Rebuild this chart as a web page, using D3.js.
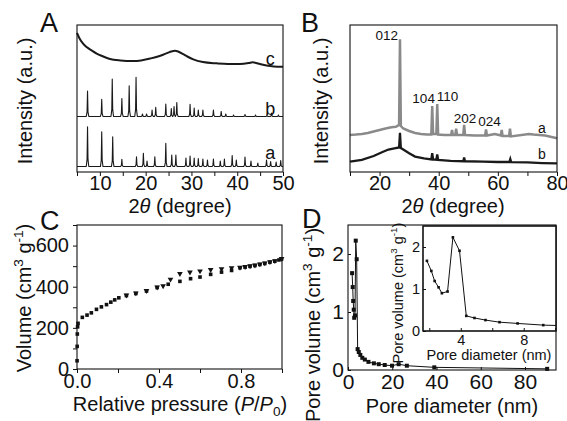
<!DOCTYPE html>
<html><head><meta charset="utf-8">
<script src="https://cdn.jsdelivr.net/npm/d3@7"></script>
<style>
body{margin:0;background:#fff}
svg text{font-family:"Liberation Sans",Arial,sans-serif;fill:#111}
.axis line{stroke:#111}
</style></head><body>
<svg id="fig" width="567" height="421"></svg>
<script>
// ---------- panel A : XRD (arbitrary intensity) ----------
const peaksA_a = [[7.3,30.8],[10.4,27.4],[12.8,24],[14.8,8.6],[18,10.4],[19.5,12.7],[20.3,7.5],[22,10.4],
  [24.4,19.5],[25.7,11.6],[26.6,11.6],[28.8,9.5],[29.7,10.9],[30.6,9.5],[31.5,9.2],[32.5,8.8],[33.5,8.2],
  [34.8,8.8],[36.3,7.5],[37.2,8.8],[38.9,11.2],[39.8,8.2],[41.7,10.2],[43,7.5],[44.5,6.1],[46.4,8.2],
  [47.3,7.1],[48.5,6.8],[49.5,7.8]];
const baseA_a = 3.7;
const peaksA_b = [[7.3,55.1],[10.4,49.5],[12.7,63.3],[14.8,50],[16.4,58.7],[17.9,64.4],[19.3,39.5],[20.2,39.5],
  [21.4,42.2],[22.2,44],[24.4,46.3],[25.6,43.2],[26.2,44.6],[26.8,47.3],[29.7,46.1],[30.6,43.5],[31.5,42.2],
  [32.5,42.2],[34.8,42.2],[36.5,41.2],[37.5,39.5],[39.2,38.8],[41.7,39.1],[44,38.8],[46.5,38.8],[47.5,40.1],[49,38.8]];
const baseA_b = 37.8;
const curveA_c = [[5,94.6],[5.5,91.2],[6.2,87.8],[7.1,85],[8.2,82.7],[9.3,80.6],[10.5,78.9],[12.2,76.9],
  [14.5,75.9],[17.2,75.5],[19,75.9],[21,77.2],[22.5,78.4],[23.8,79.8],[24.8,81],[25.6,82],[26.4,82.5],[27.2,81.8],
  [28.2,80.2],[29.2,78.4],[30.4,76.6],[32.5,74.8],[35.5,73.9],[38,73.5],[40.6,73.5],[42.5,74.1],[43.4,74.6],[44.5,73.8],
  [46.4,72.4],[48,71.8],[50,71.6]];
const labelsA = [["a",47.2,8.6],["b",47.2,38.8],["c",47.2,72.8]];

// ---------- panel B : XRD ----------
const curveB_a = [[10,25.2],[12,25.5],[14,25.9],[16,26.5],[18,27.6],[20,28.6],[22,29.6],[24,30.4],[25.5,30.8],
  [26.6,32],[26.9,90.3],[27.2,31.3],[28,29.6],[30,27.9],[32,26.5],[34,25.9],[36,25.5],[37.5,25.5],[37.8,44.9],
  [38.1,25.9],[39.2,25.9],[39.5,46.3],[39.8,25.5],[42,25.2],[44.2,25.2],[44.5,28.6],[44.8,25.2],[45.6,25.2],
  [45.9,29.5],[46.2,25.2],[48.3,25.2],[48.6,32],[48.9,25.2],[52,24.8],[55.7,24.8],[56,29],[56.3,24.8],[59,25.9],
  [61,24.8],[61.3,28.6],[61.6,24.5],[63.8,24.5],[64.1,29.5],[64.4,24.2],[70.5,25.9],[72,25.5],[76,24.8],[80,22.9]];
const curveB_b = [[10,7],[14,8.2],[18,10.9],[21,13.6],[23,15.3],[25,16.1],[26.6,16.7],[26.9,26.7],[27.2,16.3],
  [28,15.3],[30,12.7],[32,10.5],[35,9.2],[37.5,8.5],[37.8,12.9],[38.1,8.5],[39.2,8.3],[39.5,11.9],[39.8,8.2],
  [44,7.5],[48.3,7.3],[48.6,9.9],[48.9,7.3],[55,7],[60,6.8],[63.9,6.8],[64.2,8.8],[64.5,6.7],[70,6.5],[75,6.1],[80,5.8]];
const hklB = [["012",22.4,89.8],["104",34.9,46.7],["110",43,48.3],["202",48.9,33.1],["024",57.2,31.3]];
const labelsB = [["a",74.9,26.3],["b",74.9,8.6]];

// ---------- panel C : N2 isotherm ----------
const adsP = [0.0003,0.0008,0.0015,0.003,0.005,0.026,0.049,0.07,0.095,0.119,0.144,0.165,0.184,0.204,0.241,
  0.287,0.339,0.391,0.445,0.502,0.554,0.6,0.652,0.705,0.754,0.795,0.82,0.844,0.868,0.892,0.916,0.941,0.965,0.985,0.998];
const adsV = [40,110,170,205,222,251,262,273,290,302,313,325,336,346,357,367,379,396,412,426,439,447,460,471,479,
  492,495,499,503,508,513,519,524,530,535];
const desP = [0.998,0.965,0.941,0.916,0.892,0.868,0.844,0.82,0.795,0.754,0.705,0.652,0.6,0.551,0.502,0.456,0.42,
  0.391,0.339,0.287,0.241];
const desV = [537,526,521,515,510,505,501,497,494,492,487,483,476,471,463,436,404,398,381,369,359];

// ---------- panel D : pore size distribution ----------
const poreD = [1.85,2.13,2.34,2.59,2.8,3.16,3.5,3.92,4.35,4.87,5.57,6.46,7.61,9.24,11.7,13.9,16.6,19.9,22.9,26.6,39,90];
const poreV = [1.67,1.43,1.19,1.04,0.9,0.94,2.23,1.91,0.36,0.31,0.26,0.21,0.18,0.14,0.115,0.1,0.086,0.074,0.1,0.074,0.046,0.02];

const svg = d3.select("#fig");
svg.append("rect").attr("width",567).attr("height",421).attr("fill","#fff");

function rich(x, y, size, parts, rotate) {
  const t = svg.append("text").attr("font-size", size).attr("text-anchor", "middle");
  if (rotate) t.attr("transform", `translate(${x},${y}) rotate(-90)`);
  else t.attr("x", x).attr("y", y);
  let shift = 0;
  parts.forEach(([s, k]) => {
    const sp = t.append("tspan").text(s);
    const target = k === "sup" ? -0.4 * size : k === "sub" ? 0.25 * size : 0;
    if (target !== shift) { sp.attr("dy", target - shift); shift = target; }
    if (k === "sup" || k === "sub") sp.attr("font-size", size * 0.68);
    if (k === "i") sp.attr("font-style", "italic");
  });
  return t;
}

function frame(x, y, fill) {
  const [x0, x1] = x.range(), [y0, y1] = y.range();
  svg.append("rect").attr("x", x0).attr("y", y1).attr("width", x1 - x0).attr("height", y0 - y1)
    .attr("fill", fill ? "#fff" : "none").attr("stroke", "#111").attr("stroke-width", 1.1);
}

function axis(gen, tx, ty, size) {
  const g = svg.append("g").attr("class", "axis").attr("transform", `translate(${tx},${ty})`).call(gen);
  g.attr("font-size", size).attr("font-family", null);
  g.select(".domain").remove();
  g.selectAll("text").attr("fill", "#111");
  return g;
}

function spikes(peaks, base, x0, x1) {
  const pts = [[x0, base]];
  peaks.forEach(([p, h]) => {
    const s = (h - base);
    pts.push([p - 0.28, base], [p - 0.1, base + s * 0.18], [p, h], [p + 0.1, base + s * 0.18], [p + 0.28, base]);
  });
  pts.push([x1, base]);
  return pts;
}

// ===== A =====
const xA = d3.scaleLinear().domain([5, 50]).range([77, 283]);
const yA = d3.scaleLinear().domain([0, 100]).range([172, 25]);
const lineA = d3.line().x(d => xA(d[0])).y(d => yA(d[1])).curve(d3.curveLinear);
[spikes(peaksA_a, baseA_a, 5, 50), spikes(peaksA_b, baseA_b, 5, 50)].forEach(pts => {
  svg.append("path").attr("d", lineA(pts)).attr("fill", "none").attr("stroke", "#1a1a1a")
    .attr("stroke-width", 1.1).attr("stroke-linejoin", "round");
});
svg.append("path").attr("d", lineA.curve(d3.curveMonotoneX)(curveA_c)).attr("fill", "none")
  .attr("stroke", "#1a1a1a").attr("stroke-width", 2);
frame(xA, yA);
axis(d3.axisBottom(xA).tickValues(d3.range(5, 51, 5)).tickFormat(d => d % 10 ? "" : d).tickSize(4).tickPadding(0), 0, 172, 20);
labelsA.forEach(([t, a, b]) => svg.append("text").attr("x", xA(a)).attr("y", yA(b)).attr("font-size", 18)
  .attr("text-anchor", "middle").text(t));

// ===== B =====
const xB = d3.scaleLinear().domain([10, 80]).range([350, 557]);
const yB = d3.scaleLinear().domain([0, 100]).range([172, 25]);
const lineB = d3.line().x(d => xB(d[0])).y(d => yB(d[1]));
svg.append("path").attr("d", lineB(curveB_a)).attr("fill", "none").attr("stroke", "#8a8a8a").attr("stroke-width", 2.5);
svg.append("path").attr("d", lineB(curveB_b)).attr("fill", "none").attr("stroke", "#1a1a1a").attr("stroke-width", 2.3);
frame(xB, yB);
axis(d3.axisBottom(xB).tickValues(d3.range(10, 81, 10)).tickFormat(d => d % 20 ? "" : d).tickSize(4).tickPadding(0), 0, 172, 20);
hklB.forEach(([t, a, b]) => svg.append("text").attr("x", xB(a)).attr("y", yB(b)).attr("font-size", 13.5)
  .attr("text-anchor", "middle").text(t));
labelsB.forEach(([t, a, b]) => svg.append("text").attr("x", xB(a)).attr("y", yB(b)).attr("font-size", 14)
  .attr("text-anchor", "middle").text(t));

// ===== C =====
const xC = d3.scaleLinear().domain([0, 1]).range([77, 282]);
const yC = d3.scaleLinear().domain([0, 700]).range([369, 225]);
frame(xC, yC);
svg.append("g").selectAll("rect").data(d3.zip(adsP, adsV)).join("rect")
  .attr("x", d => xC(d[0]) - 1.8).attr("y", d => yC(d[1]) - 1.8).attr("width", 3.6).attr("height", 3.6).attr("fill", "#111");
const tri = d3.symbol().type(d3.symbolTriangle).size(14);
svg.append("g").selectAll("path").data(d3.zip(desP, desV)).join("path")
  .attr("d", tri).attr("transform", d => `translate(${xC(d[0])},${yC(d[1])}) rotate(180)`).attr("fill", "#111");
axis(d3.axisBottom(xC).tickValues(d3.range(0, 1.01, 0.2)).tickFormat(d => [0, 0.4, 0.8].some(v => Math.abs(v - d) < 1e-6) ? d3.format(".1f")(d) : "").tickSize(4).tickPadding(1), 0, 369, 20);
axis(d3.axisLeft(yC).tickValues(d3.range(0, 701, 100)).tickFormat(d => d % 200 || d > 600 ? "" : d).tickSize(4).tickPadding(4), 77, 0, 20);

// ===== D =====
const xD = d3.scaleLinear().domain([0, 94]).range([348, 556]);
const yD = d3.scaleLinear().domain([0, 2.5]).range([370, 225]);
frame(xD, yD);
const dataD = d3.zip(poreD, poreV);
svg.append("path").attr("d", d3.line().x(d => xD(d[0])).y(d => yD(d[1]))(dataD))
  .attr("fill", "none").attr("stroke", "#111").attr("stroke-width", 1);
svg.append("g").selectAll("rect").data(dataD).join("rect")
  .attr("x", d => xD(d[0]) - 2).attr("y", d => yD(d[1]) - 2).attr("width", 4).attr("height", 4).attr("fill", "#111");
axis(d3.axisBottom(xD).tickValues(d3.range(0, 91, 20)).tickSize(-3).tickPadding(4), 0, 370, 21);
axis(d3.axisLeft(yD).tickValues([0, 1, 2]).tickFormat(d3.format("d")).tickSize(-3).tickPadding(4), 348, 0, 21);

// inset
const xI = d3.scaleLinear().domain([1.6, 10.05]).range([423, 556]);
const yI = d3.scaleLinear().domain([0, 2.5]).range([331, 226]);
frame(xI, yI, true);
svg.append("clipPath").attr("id", "inclip").append("rect")
  .attr("x", 423).attr("y", 226).attr("width", 133).attr("height", 105);
const gi = svg.append("g").attr("clip-path", "url(#inclip)");
gi.append("path").attr("d", d3.line().x(d => xI(d[0])).y(d => yI(d[1]))(dataD))
  .attr("fill", "none").attr("stroke", "#111").attr("stroke-width", 1);
gi.selectAll("rect.pt").data(dataD).join("rect").attr("class", "pt")
  .attr("x", d => xI(d[0]) - 1.3).attr("y", d => yI(d[1]) - 1.3).attr("width", 2.6).attr("height", 2.6).attr("fill", "#111");
frame(xI, yI);
axis(d3.axisBottom(xI).tickValues([2, 4, 6, 8, 10]).tickFormat(d => d % 4 ? "" : d).tickSize(-3).tickPadding(4), 0, 331, 14.5);
axis(d3.axisLeft(yI).tickValues([0, 1, 2]).tickFormat(d3.format("d")).tickSize(-3).tickPadding(3), 423, 0, 14.5);
rich(403, 293, 14.5, [["Pore volume (cm", ""], ["3", "sup"], [" g", ""], ["-1", "sup"], [")", ""]], true);
rich(489, 360, 14.5, [["Pore diameter (nm)", ""]]);

// ===== titles =====
rich(180, 213, 20, [["2", ""], ["\u03b8", "i"], [" (degree)", ""]]);
rich(453, 213, 20, [["2", ""], ["\u03b8", "i"], [" (degree)", ""]]);
rich(32, 101, 20, [["Intensity (a.u.)", ""]], true);
rich(328, 101, 20, [["Intensity (a.u.)", ""]], true);
rich(31, 298, 20, [["Volume (cm", ""], ["3", "sup"], [" g", ""], ["-1", "sup"], [")", ""]], true);
rich(320, 325, 20, [["Pore volume (cm", ""], ["3", "sup"], [" g", ""], ["-1", "sup"], [")", ""]], true);
rich(180, 411, 20, [["Relative pressure (", ""], ["P", "i"], ["/", ""], ["P", "i"], ["0", "sub"], [")", ""]]);
rich(452, 413, 20, [["Pore diameter (nm)", ""]]);

[["A", 40, 32], ["B", 301, 32], ["C", 40, 230], ["D", 302, 228]].forEach(([t, x, y]) =>
  svg.append("text").attr("x", x).attr("y", y).attr("font-size", 27).text(t));
</script>
</body></html>
